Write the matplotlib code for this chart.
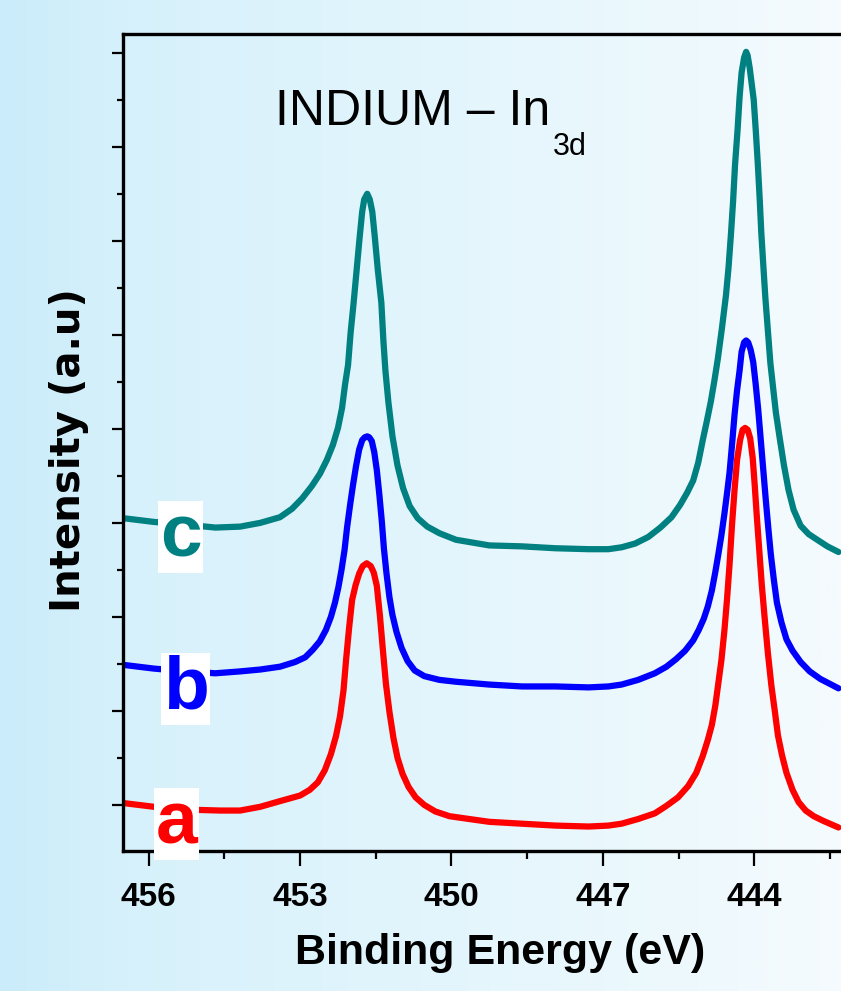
import numpy as np
import matplotlib
matplotlib.use("Agg")
import matplotlib.pyplot as plt
from matplotlib.ticker import MultipleLocator

# In 3d XPS spectra
# binding energy (eV) / intensity (a.u., one major tick = 1)
energy_a = [456.51, 455.90, 455.25, 454.58, 454.19, 453.79, 453.40, 453.00, 452.81, 452.65,
            452.51, 452.39, 452.29, 452.21, 452.14, 452.09, 452.03, 451.97, 451.90, 451.83,
            451.76, 451.68, 451.60, 451.54, 451.48, 451.42, 451.36, 451.30, 451.23, 451.15,
            451.07, 450.97, 450.85, 450.71, 450.54, 450.32, 450.04, 449.65, 449.25, 448.60,
            447.94, 447.28, 446.89, 446.63, 446.30, 445.97, 445.74, 445.51, 445.31, 445.15,
            445.02, 444.92, 444.84, 444.77, 444.71, 444.65, 444.59, 444.54, 444.49, 444.44,
            444.39, 444.34, 444.28, 444.23, 444.18, 444.13, 444.08, 444.03, 443.99, 443.95,
            443.90, 443.85, 443.79, 443.73, 443.66, 443.59, 443.53, 443.45, 443.36, 443.24,
            443.12, 442.98, 442.82, 442.63, 442.33]
intensity_a = [0.02, -0.02, -0.05, -0.06, -0.06, -0.02, 0.04, 0.10, 0.16, 0.24,
               0.37, 0.54, 0.73, 0.94, 1.22, 1.54, 1.88, 2.18, 2.34, 2.46,
               2.54, 2.57, 2.54, 2.47, 2.33, 2.02, 1.65, 1.29, 0.99, 0.71,
               0.50, 0.33, 0.19, 0.08, 0.00, -0.07, -0.12, -0.15, -0.18, -0.20,
               -0.22, -0.23, -0.22, -0.20, -0.15, -0.09, -0.01, 0.08, 0.20, 0.34,
               0.52, 0.69, 0.85, 1.06, 1.30, 1.54, 1.86, 2.18, 2.55, 2.98,
               3.35, 3.67, 3.88, 3.99, 4.01, 3.99, 3.90, 3.69, 3.40, 3.08,
               2.71, 2.34, 1.97, 1.62, 1.27, 0.99, 0.74, 0.53, 0.34, 0.16,
               0.03, -0.06, -0.12, -0.17, -0.24]

energy_b = [456.51, 455.90, 455.25, 454.68, 454.19, 453.79, 453.40, 453.10, 452.90, 452.75,
            452.61, 452.49, 452.39, 452.31, 452.24, 452.18, 452.12, 452.07, 452.01, 451.95,
            451.89, 451.83, 451.77, 451.72, 451.67, 451.63, 451.58, 451.53, 451.48, 451.43,
            451.38, 451.34, 451.29, 451.23, 451.17, 451.09, 450.99, 450.87, 450.73, 450.54,
            450.24, 449.91, 449.25, 448.60, 447.94, 447.28, 446.89, 446.63, 446.30, 445.97,
            445.74, 445.55, 445.37, 445.21, 445.10, 445.00, 444.92, 444.84, 444.77, 444.71,
            444.65, 444.59, 444.54, 444.49, 444.44, 444.39, 444.34, 444.29, 444.25, 444.20,
            444.16, 444.12, 444.07, 444.02, 443.97, 443.92, 443.87, 443.82, 443.77, 443.72,
            443.67, 443.61, 443.55, 443.46, 443.36, 443.24, 443.08, 442.90, 442.69, 442.33]
intensity_b = [1.49, 1.45, 1.42, 1.40, 1.42, 1.44, 1.47, 1.52, 1.57, 1.65,
               1.74, 1.86, 2.00, 2.15, 2.32, 2.50, 2.71, 2.95, 3.19, 3.41,
               3.61, 3.78, 3.88, 3.91, 3.92, 3.91, 3.87, 3.75, 3.56, 3.30,
               3.01, 2.73, 2.47, 2.21, 2.02, 1.84, 1.67, 1.53, 1.43, 1.37,
               1.33, 1.31, 1.28, 1.26, 1.26, 1.25, 1.26, 1.28, 1.33, 1.40,
               1.47, 1.55, 1.64, 1.75, 1.86, 1.98, 2.11, 2.28, 2.48, 2.67,
               2.87, 3.10, 3.31, 3.53, 3.83, 4.15, 4.41, 4.62, 4.82, 4.92,
               4.94, 4.92, 4.84, 4.71, 4.47, 4.20, 3.88, 3.56, 3.24, 2.94,
               2.66, 2.39, 2.15, 1.94, 1.76, 1.64, 1.52, 1.42, 1.34, 1.24]

energy_c = [456.51, 455.90, 455.25, 454.68, 454.19, 453.79, 453.40, 453.16, 452.96, 452.77,
            452.61, 452.47, 452.35, 452.25, 452.17, 452.11, 452.05, 452.00, 451.94, 451.88,
            451.82, 451.77, 451.73, 451.67, 451.62, 451.57, 451.52, 451.46, 451.39, 451.35,
            451.31, 451.25, 451.17, 451.07, 450.96, 450.83, 450.67, 450.48, 450.24, 449.91,
            449.25, 448.60, 447.94, 447.28, 446.89, 446.63, 446.36, 446.10, 445.86, 445.64,
            445.47, 445.33, 445.21, 445.11, 445.02, 444.94, 444.86, 444.79, 444.72, 444.64,
            444.56, 444.51, 444.46, 444.42, 444.38, 444.33, 444.29, 444.25, 444.20, 444.16,
            444.13, 444.09, 444.05, 444.01, 443.97, 443.93, 443.89, 443.86, 443.82, 443.78,
            443.73, 443.68, 443.62, 443.57, 443.50, 443.41, 443.32, 443.22, 443.08, 442.92,
            442.75, 442.55, 442.33]
intensity_c = [3.05, 3.01, 2.98, 2.95, 2.96, 3.00, 3.06, 3.15, 3.26, 3.39,
               3.52, 3.67, 3.83, 4.01, 4.22, 4.47, 4.68, 5.02, 5.34, 5.69,
               6.04, 6.31, 6.44, 6.50, 6.44, 6.31, 6.04, 5.69, 5.34, 4.94,
               4.62, 4.28, 3.92, 3.61, 3.37, 3.18, 3.05, 2.96, 2.89, 2.82,
               2.76, 2.75, 2.73, 2.72, 2.72, 2.74, 2.78, 2.85, 2.95, 3.06,
               3.19, 3.32, 3.45, 3.64, 3.88, 4.08, 4.29, 4.51, 4.75, 5.07,
               5.42, 5.71, 6.08, 6.41, 6.81, 7.18, 7.53, 7.79, 7.95, 8.01,
               7.97, 7.84, 7.67, 7.50, 7.18, 6.83, 6.43, 6.09, 5.74, 5.40,
               5.05, 4.70, 4.41, 4.17, 3.92, 3.61, 3.35, 3.14, 2.97, 2.88,
               2.82, 2.75, 2.69]

curve_names = ["a", "b", "c"]
curve_colors = ["#ff0000", "#0000ff", "#008080"]
x_ticks = [456, 453, 450, 447, 444]

font_main = ["Liberation Sans", "DejaVu Sans"]

fig = plt.figure(figsize=(8.41, 9.91), dpi=100)

# light blue background, fading to white on the right
bg = fig.add_axes([0, 0, 1, 1], zorder=0)
stops = np.array([[203, 236, 250], [214, 241, 251], [226, 245, 252],
                  [238, 249, 253], [245, 251, 253]]) / 255.0
pos = np.linspace(0, 1, 400)
grad = np.stack([np.interp(pos, [0, 0.15, 0.5, 0.83, 1.0], stops[:, k]) for k in range(3)], axis=-1)
bg.imshow(grad[np.newaxis, :, :], aspect="auto", extent=[0, 1, 0, 1])
bg.set_axis_off()

ax = fig.add_axes([0.1463, 0.1413, 0.8537, 0.8244], zorder=1)
ax.set_facecolor("none")

for e, y, col in zip([energy_a, energy_b, energy_c],
                     [intensity_a, intensity_b, intensity_c], curve_colors):
    ax.plot(e, y, color=col, lw=4.5, solid_capstyle="round", solid_joinstyle="round")

ax.set_xlim(456.51, 442.28)
ax.set_ylim(-0.49, 8.2)

ax.set_xticks(x_ticks)
ax.set_xticklabels([str(t) for t in x_ticks], fontsize=24, fontweight="bold", family=font_main)
ax.xaxis.set_minor_locator(MultipleLocator(1.5))
ax.yaxis.set_major_locator(MultipleLocator(1))
ax.yaxis.set_minor_locator(MultipleLocator(0.5))
ax.set_yticklabels([])
ax.tick_params(axis="x", which="major", direction="out", length=11, width=1.6, pad=11)
ax.tick_params(axis="x", which="minor", direction="out", length=6, width=1.6)
ax.tick_params(axis="y", which="major", direction="out", length=8, width=1.6)
ax.tick_params(axis="y", which="minor", direction="out", length=4, width=1.6)

for side in ["left", "bottom", "top"]:
    ax.spines[side].set_linewidth(2.4)
ax.spines["right"].set_visible(False)

ax.set_xlabel("Binding Energy (eV)", fontsize=31, fontweight="bold", family=font_main)
ax.xaxis.set_label_coords(0.525, -0.1)
ax.set_ylabel("Intensity (a.u)", fontsize=29, fontweight="bold", family="DejaVu Sans")
ax.yaxis.set_label_coords(-0.048, 0.491)

# title with subscript
fig.text(275 / 841, 1 - 125 / 991, "INDIUM \u2013 In", fontsize=36, family=font_main,
         ha="left", va="baseline")
fig.text(553 / 841, 1 - 155 / 991, "3d", fontsize=22, family=font_main,
         ha="left", va="baseline")

# curve letters on white boxes
label_x = [455.45, 455.27, 455.37]
label_y = [-0.41, 1.03, 2.64]
for name, col, lx, ly in zip(curve_names, curve_colors, label_x, label_y):
    ax.text(lx, ly, name, color=col, fontsize=54, fontweight="bold", family=font_main,
            ha="center", va="baseline",
            bbox=dict(facecolor="white", edgecolor="none", pad=1))

fig.savefig("out.png", dpi=100)
